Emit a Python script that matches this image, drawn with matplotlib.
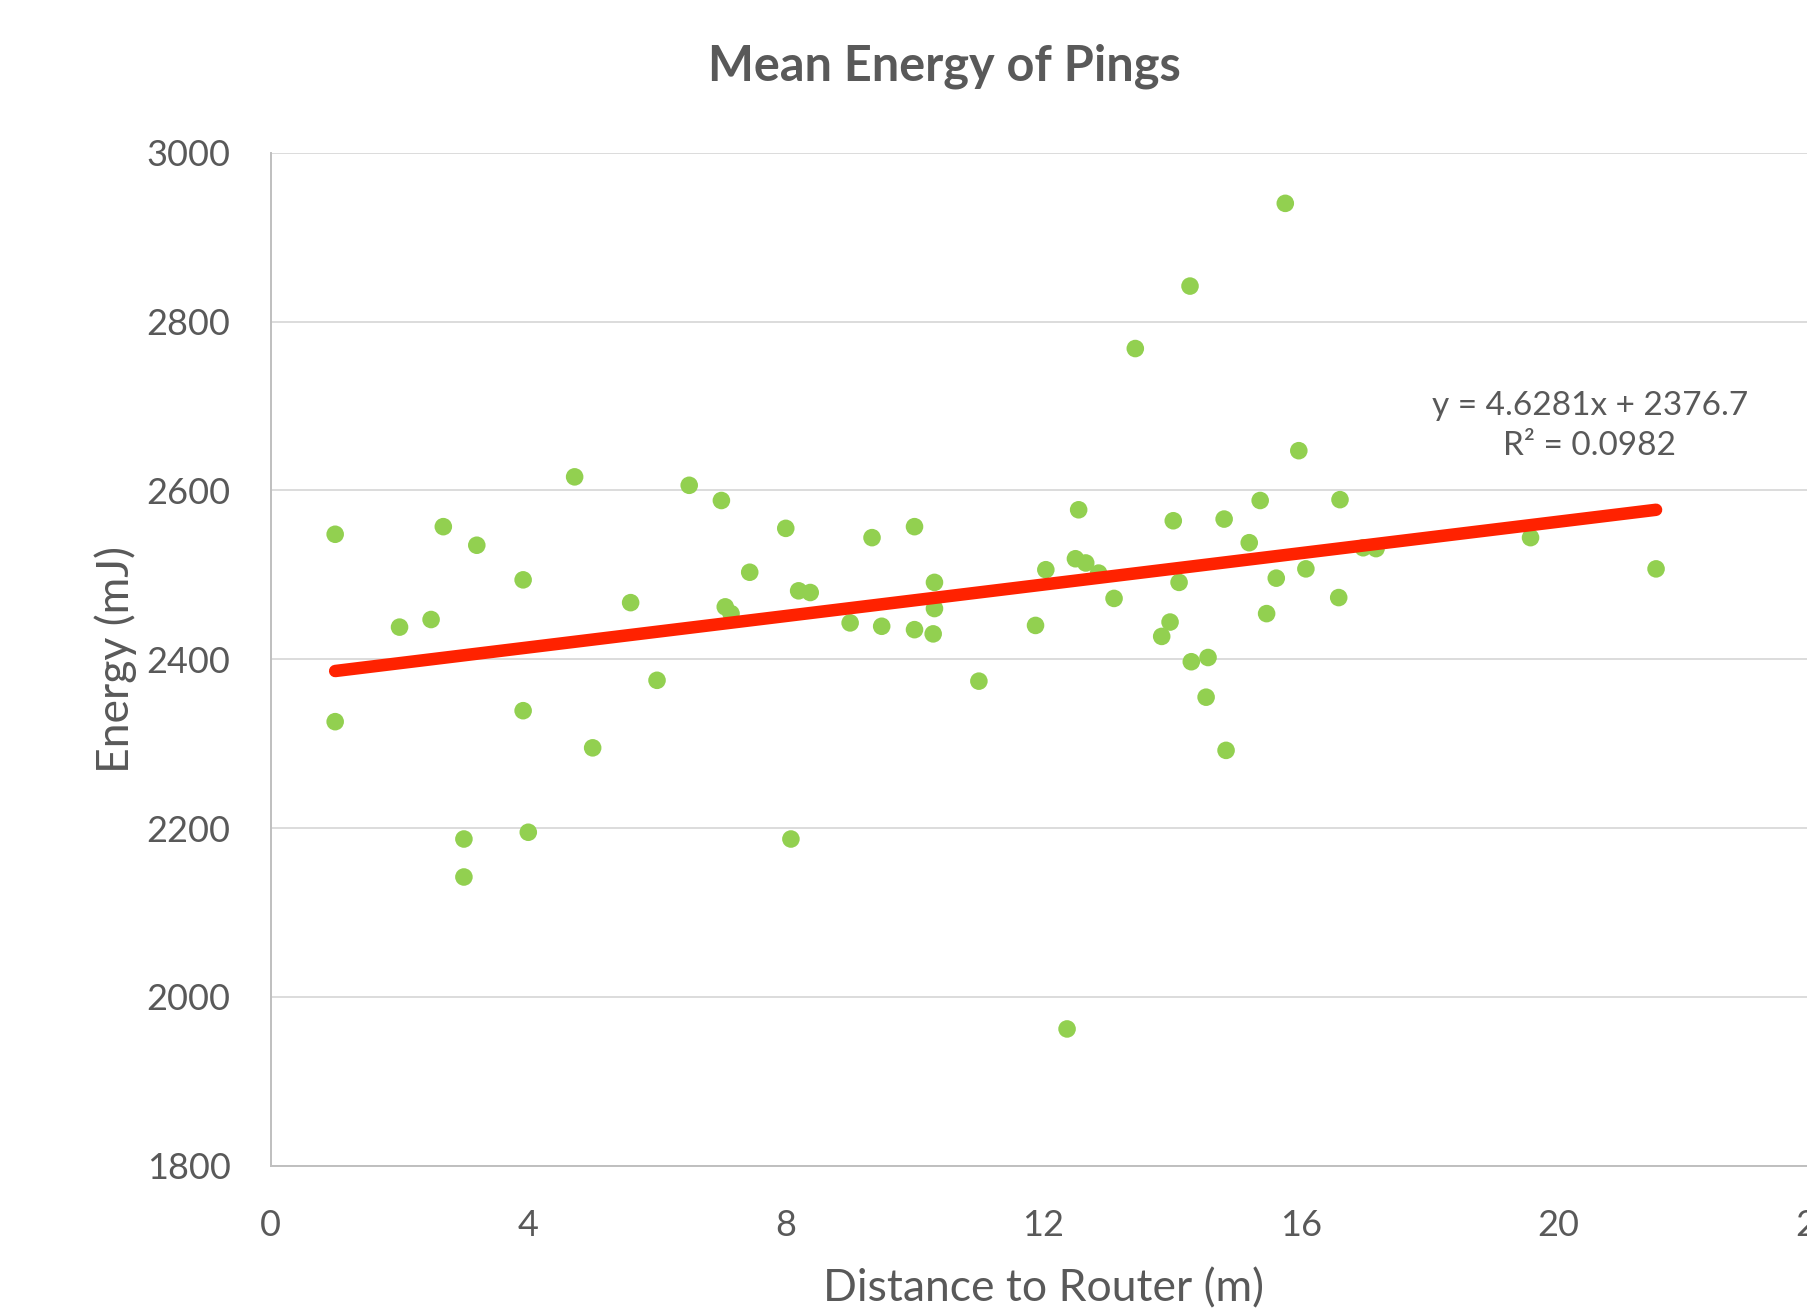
import matplotlib
matplotlib.use("Agg")
import matplotlib.pyplot as plt

# ---- data ----
distance_m = [
    1.0, 1.0, 2.0, 2.49, 2.68, 3.2, 3.0, 3.0, 3.92, 3.92, 4.0, 4.72, 5.0, 5.59, 6.0,
    6.5, 7.0, 7.06, 7.15, 7.44, 8.0, 8.08, 8.2, 8.38, 9.0, 9.34, 9.49, 10.0, 10.0,
    10.31, 10.31, 10.29, 11.0, 11.88, 12.04, 12.37, 12.55, 12.5, 12.66, 12.86,
    15.76, 14.28, 13.43, 15.97, 15.37, 16.61, 14.02, 14.81, 15.2, 16.97, 17.17,
    19.57, 16.08, 15.62, 14.11, 13.1, 16.59, 21.52, 15.47, 13.97, 13.84, 14.3,
    14.56, 14.53, 14.84,
]
energy_mj = [
    2548, 2326, 2438, 2447, 2557, 2535, 2187, 2142, 2494, 2339, 2195, 2616, 2295, 2467, 2375,
    2606, 2588, 2462, 2454, 2503, 2555, 2187, 2481, 2479, 2443, 2544, 2439, 2557, 2435,
    2491, 2460, 2430, 2374, 2440, 2506, 1962, 2577, 2519, 2514, 2502,
    2940, 2842, 2768, 2647, 2588, 2589, 2564, 2566, 2538, 2532, 2531,
    2544, 2507, 2496, 2491, 2472, 2473, 2507, 2454, 2444, 2427, 2397,
    2402, 2355, 2292,
]
trend_x = [1.0, 21.52]
trend_y = [2386, 2577]

title = "Mean Energy of Pings"
x_label = "Distance to Router (m)"
y_label = "Energy (mJ)"
x_ticks = [0, 4, 8, 12, 16, 20, 24]
y_ticks = [1800, 2000, 2200, 2400, 2600, 2800, 3000]
equation_text = "y = 4.6281x + 2376.7\nR² = 0.0982"

# ---- styling ----
FONT = ["Lato", "DejaVu Sans"]
plt.rcParams["font.family"] = FONT
TEXT_GRAY = "#595959"
GRID_GRAY = "#D9D9D9"
AXIS_GRAY = "#BFBFBF"
GREEN = "#92D050"
RED = "#FF2200"

W, H = 1807, 1309
fig = plt.figure(figsize=(W / 100, H / 100), dpi=100)
fig.patch.set_facecolor("white")

left_px, right_px = 270.8, 1815.7
top_px, bottom_px = 152.7, 1165.7
ax = fig.add_axes([left_px / W, 1 - bottom_px / H,
                   (right_px - left_px) / W, (bottom_px - top_px) / H])

ax.set_xlim(0, 24)
ax.set_ylim(1800, 3000)
ax.set_xticks(x_ticks)
ax.set_yticks(y_ticks)
ax.set_xticklabels([str(t) for t in x_ticks])
ax.set_yticklabels([str(t) for t in y_ticks])

ax.grid(axis="y", color=GRID_GRAY, linewidth=1.3, zorder=0)
ax.set_axisbelow(True)
for side in ("top", "right"):
    ax.spines[side].set_visible(False)
ax.spines["left"].set_color(AXIS_GRAY)
ax.spines["left"].set_linewidth(1.4)
ax.spines["bottom"].set_color(AXIS_GRAY)
ax.spines["bottom"].set_linewidth(1.4)

ax.tick_params(axis="both", length=0, labelsize=26, labelcolor=TEXT_GRAY)
ax.tick_params(axis="y", pad=29)
ax.tick_params(axis="x", pad=31)

ax.scatter(distance_m, energy_mj, s=160, color=GREEN, edgecolors="none", zorder=3)
ax.plot(trend_x, trend_y, color=RED, linewidth=9, solid_capstyle="round", zorder=4)

ax.text(20.49, 2676, equation_text, ha="center", va="center", fontsize=24,
        color=TEXT_GRAY, linespacing=1.42, zorder=5)

ax.set_xlabel(x_label, fontsize=32, color=TEXT_GRAY, labelpad=19)
ax.set_ylabel(y_label, fontsize=32, color=TEXT_GRAY, labelpad=7)

fig.text(944 / W, 1 - 66 / H, title, ha="center", va="center", fontsize=35,
         fontweight="bold", color=TEXT_GRAY)

fig.savefig("out.png", dpi=100, facecolor="white")
